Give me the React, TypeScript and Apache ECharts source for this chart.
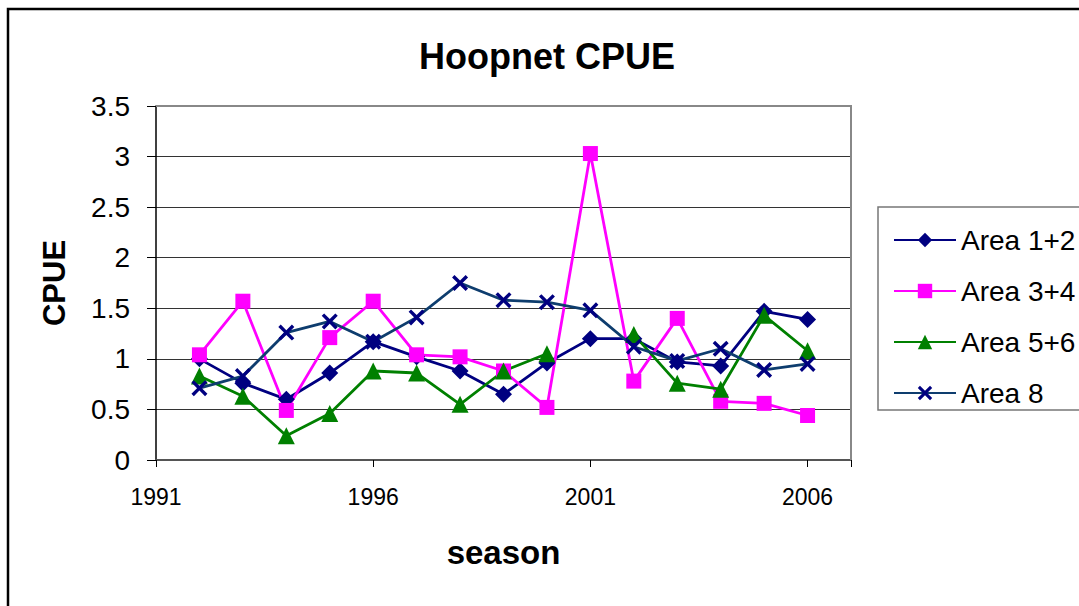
import React, { useEffect, useRef } from "react";
import * as echarts from "echarts";

const years = [1992, 1993, 1994, 1995, 1996, 1997, 1998, 1999, 2000, 2001, 2002, 2003, 2004, 2005, 2006];
const area12 = [1.0, 0.76, 0.6, 0.86, 1.17, 1.02, 0.88, 0.65, 0.96, 1.2, 1.2, 0.97, 0.93, 1.47, 1.39];
const area34 = [1.04, 1.57, 0.49, 1.21, 1.57, 1.04, 1.02, 0.88, 0.52, 3.03, 0.78, 1.4, 0.58, 0.56, 0.44];
const area56 = [0.83, 0.63, 0.24, 0.46, 0.88, 0.86, 0.55, 0.88, 1.05, null, 1.24, 0.76, 0.7, 1.43, 1.08];
const area8 = [0.71, 0.83, 1.26, 1.37, 1.17, 1.41, 1.75, 1.58, 1.56, 1.48, 1.12, 0.98, 1.1, 0.89, 0.95];
const seriesNames = ["Area 1+2", "Area 3+4", "Area 5+6", "Area 8"];
const baseYear = 1991;
const lastYear = 2007;

const FONT = "'Liberation Sans', Arial, sans-serif";
const X_SYMBOL =
  "path://M0,1.5L1.5,0L5,3.5L8.5,0L10,1.5L6.5,5L10,8.5L8.5,10L5,6.5L1.5,10L0,8.5L3.5,5Z";

const GRID = { left: 156, top: 106, width: 695, height: 354 };

export default function App() {
  const ref = useRef<HTMLDivElement>(null);
  useEffect(() => {
    if (!ref.current) return;
    const chart = echarts.init(ref.current, undefined, { renderer: "svg" });
    const toPts = (vals: (number | null)[]) =>
      years.map((y, i) => [y - baseYear, vals[i] === null ? null : vals[i]]);
    const mk = (
      name: string,
      vals: (number | null)[],
      lineColor: string,
      markColor: string,
      symbol: string,
      size: number
    ) => ({
      type: "line",
      name,
      data: toPts(vals),
      symbol,
      symbolSize: size,
      connectNulls: false,
      lineStyle: { color: lineColor, width: 2.8 },
      itemStyle: { color: markColor, borderWidth: 0 },
      emphasis: { disabled: true },
    });
    chart.setOption({
      animation: false,
      grid: { ...GRID, containLabel: false },
      xAxis: {
        type: "value",
        min: 0,
        max: lastYear - baseYear,
        interval: 5,
        axisLine: { show: true, onZero: false, lineStyle: { color: "#555", width: 2 } },
        axisTick: { show: true, length: 7, lineStyle: { color: "#000", width: 1 } },
        splitLine: { show: false },
        axisLabel: {
          margin: 25,
          fontFamily: FONT,
          fontSize: 23,
          color: "#000",
          formatter: (v: number) => (v + baseYear === lastYear ? "" : String(v + baseYear)),
        },
        name: "season",
        nameLocation: "middle",
        nameGap: 76,
        nameTextStyle: { fontFamily: FONT, fontSize: 33, fontWeight: "bold", color: "#000" },
      },
      yAxis: {
        type: "value",
        min: 0,
        max: 3.5,
        interval: 0.5,
        axisLine: { show: true, lineStyle: { color: "#000", width: 1.5 } },
        axisTick: { show: true, length: 9, lineStyle: { color: "#000", width: 1 } },
        splitLine: { show: true, lineStyle: { color: "#333", width: 1 } },
        axisLabel: { margin: 26, fontFamily: FONT, fontSize: 28, color: "#000" },
        name: "CPUE",
        nameLocation: "middle",
        nameRotate: 90,
        nameGap: 86,
        nameTextStyle: { fontFamily: FONT, fontSize: 31, fontWeight: "bold", color: "#000" },
      },
      legend: {
        orient: "vertical",
        left: 888,
        top: 220,
        itemWidth: 62,
        itemHeight: 18,
        itemGap: 21,
        data: seriesNames,
        textStyle: { fontFamily: FONT, fontSize: 28, color: "#000", lineHeight: 30 },
        selectedMode: false,
      },
      graphic: [
        {
          type: "rect",
          shape: { x: 8, y: 9, width: 1200, height: 800 },
          style: { fill: "none", stroke: "#000", lineWidth: 2.5 },
          z: 10,
          silent: true,
        },
        {
          type: "rect",
          shape: { x: 878, y: 207, width: 300, height: 203 },
          style: { fill: "none", stroke: "#777", lineWidth: 1.5 },
          z: 10,
          silent: true,
        },
        {
          type: "polyline",
          shape: {
            points: [
              [GRID.left, GRID.top],
              [GRID.left + GRID.width, GRID.top],
              [GRID.left + GRID.width, GRID.top + GRID.height],
            ],
          },
          style: { fill: "none", stroke: "#888", lineWidth: 2 },
          z: 1,
          silent: true,
        },
        {
          type: "text",
          x: 547,
          y: 56,
          style: {
            text: "Hoopnet CPUE",
            fontFamily: FONT,
            fontSize: 36,
            fontWeight: "bold",
            fill: "#000",
            align: "center",
            verticalAlign: "middle",
          },
          z: 10,
        },
      ],
      series: [
        mk(seriesNames[0], area12, "#000080", "#000080", "diamond", 17),
        mk(seriesNames[1], area34, "#FF00FF", "#FF00FF", "rect", 15),
        mk(seriesNames[2], area56, "#008000", "#008000", "triangle", 17),
        mk(seriesNames[3], area8, "#0E3D6E", "#000080", X_SYMBOL, 16),
      ],
    });
    return () => chart.dispose();
  }, []);
  return (
    <div
      ref={ref}
      style={{ position: "fixed", left: 0, top: 0, width: 1079, height: 606, background: "#fff" }}
    />
  );
}
